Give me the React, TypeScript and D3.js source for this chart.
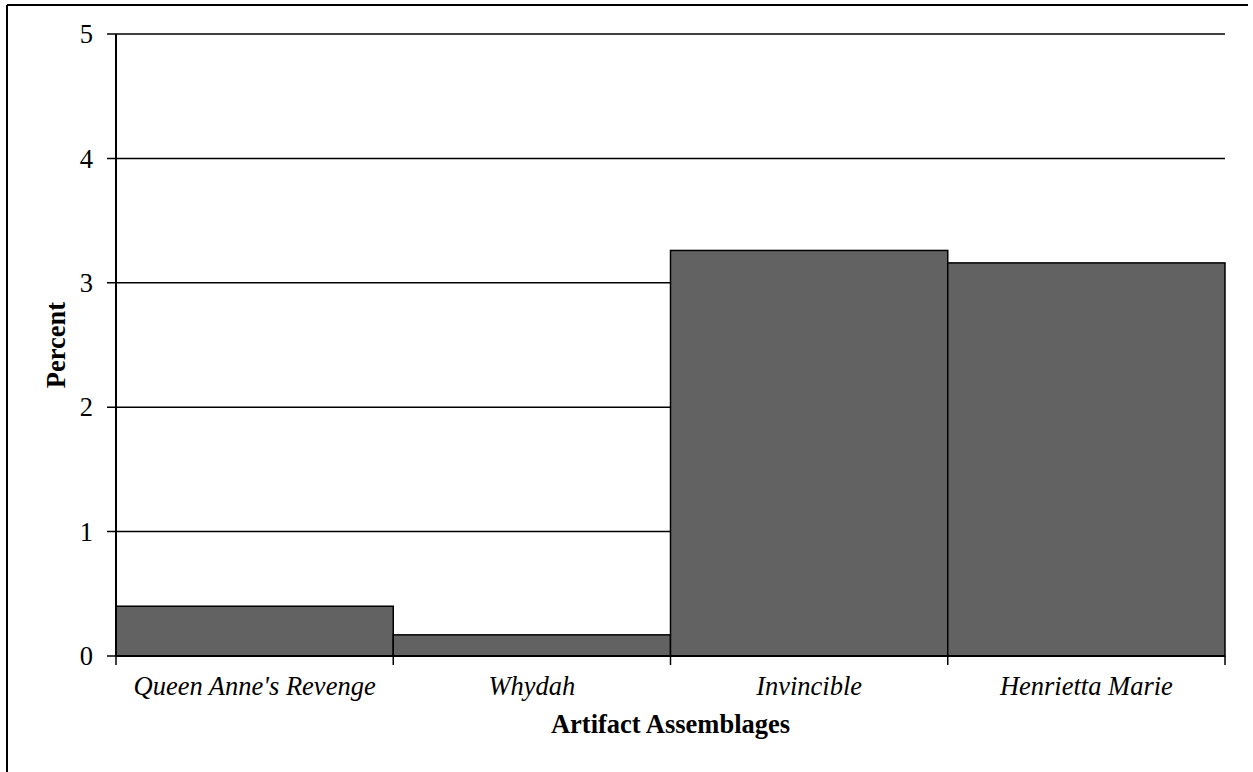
import React from "react";
import * as d3 from "d3";

const categories = ["Queen Anne's Revenge", "Whydah", "Invincible", "Henrietta Marie"];
const values = [0.4, 0.17, 3.26, 3.16];
const yTicks = [0, 1, 2, 3, 4, 5];

const W = 1253;
const H = 772;
const M = { left: 116, right: 1225, top: 34, bottom: 656 };

export default function App() {
  const x = d3.scaleBand<string>().domain(categories).range([M.left, M.right]).padding(0);
  const y = d3.scaleLinear().domain([0, 5]).range([M.bottom, M.top]);
  const font = "'Liberation Serif', 'Times New Roman', serif";
  const fs = 26.5;
  const edges = [M.left, ...categories.map((c) => (x(c) as number) + x.bandwidth())];
  return (
    <svg
      width={W}
      height={H}
      style={{ position: "absolute", left: 0, top: 0, background: "#fff" }}
      fontFamily={font}
    >
      <line x1={7} y1={5} x2={1248} y2={5} stroke="#000" strokeWidth={2} />
      <line x1={7} y1={5} x2={7} y2={H} stroke="#000" strokeWidth={2} />
      {yTicks.map((t) => (
        <g key={t}>
          <line x1={M.left - 9} x2={M.right} y1={y(t)} y2={y(t)} stroke="#000" strokeWidth={1.5} />
          <text x={93} y={y(t)} dy="0.35em" textAnchor="end" fontSize={fs}>
            {t}
          </text>
        </g>
      ))}
      {categories.map((c, i) => (
        <rect
          key={c}
          x={x(c)}
          y={y(values[i])}
          width={x.bandwidth()}
          height={y(0) - y(values[i])}
          fill="#626262"
          stroke="#000"
          strokeWidth={1.5}
        />
      ))}
      <line x1={M.left} x2={M.left} y1={M.top} y2={M.bottom} stroke="#000" strokeWidth={2} />
      <line x1={M.left} x2={M.right} y1={M.bottom} y2={M.bottom} stroke="#000" strokeWidth={2} />
      {edges.map((e, i) => (
        <line key={i} x1={e} x2={e} y1={M.bottom} y2={M.bottom + 9} stroke="#000" strokeWidth={1.5} />
      ))}
      {categories.map((c) => (
        <text
          key={c}
          x={(x(c) as number) + x.bandwidth() / 2}
          y={695}
          textAnchor="middle"
          fontSize={fs}
          fontStyle="italic"
        >
          {c}
        </text>
      ))}
      <text x={(M.left + M.right) / 2} y={733} textAnchor="middle" fontSize={fs} fontWeight="bold">
        Artifact Assemblages
      </text>
      <text
        transform={`translate(65, ${(M.top + M.bottom) / 2}) rotate(-90)`}
        textAnchor="middle"
        fontSize={fs}
        fontWeight="bold"
      >
        Percent
      </text>
    </svg>
  );
}
